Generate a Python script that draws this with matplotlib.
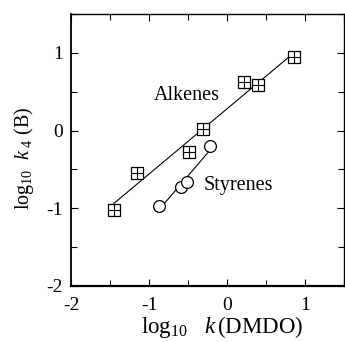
import numpy as np
import matplotlib
matplotlib.use("Agg")
import matplotlib.pyplot as plt

plt.rcParams['font.family'] = ['Liberation Serif', 'DejaVu Serif']
plt.rcParams['mathtext.fontset'] = 'custom'
plt.rcParams['mathtext.rm'] = 'Liberation Serif'
plt.rcParams['mathtext.it'] = 'Liberation Serif:italic'
plt.rcParams['axes.unicode_minus'] = False

alkenes_x = [-1.45, -1.16, -0.49, -0.31, 0.22, 0.40, 0.86]
alkenes_y = [-1.02, -0.55, -0.27, 0.02, 0.62, 0.59, 0.95]
styrenes_x = [-0.875, -0.59, -0.51, -0.22]
styrenes_y = [-0.97, -0.73, -0.66, -0.20]
xticks = [-2, -1, 0, 1]
yticks = [-2, -1, 0, 1]

fig = plt.figure(figsize=(3.45, 3.42), dpi=100)
ax = fig.add_axes([0.206, 0.164, 0.791, 0.795])

# fit lines
for xs, ys in [(alkenes_x, alkenes_y), (styrenes_x, styrenes_y)]:
    p = np.polyfit(xs, ys, 1)
    xx = np.array([min(xs), max(xs)])
    ax.plot(xx, np.polyval(p, xx), color='black', lw=0.8, zorder=2)

ax.plot(alkenes_x, alkenes_y, linestyle='none', marker='s', ms=8, mfc='white',
        mec='black', mew=0.9, zorder=3)
ax.plot(alkenes_x, alkenes_y, linestyle='none', marker='+', ms=8, mec='black',
        mew=0.8, zorder=4)
ax.plot(styrenes_x, styrenes_y, linestyle='none', marker='o', ms=8.5, mfc='white',
        mec='black', mew=0.9, zorder=3)

ax.text(-0.51, 0.45, 'Alkenes', ha='center', va='center', fontsize=14.5)
ax.text(0.14, -0.71, 'Styrenes', ha='center', va='center', fontsize=14.5)

ax.set_xlim(-2, 1.5)
ax.set_ylim(-2, 1.5)
ax.set_xticks(xticks)
ax.set_yticks(yticks)
ax.set_xticks(np.arange(-1.5, 1.6, 1.0), minor=True)
ax.set_yticks(np.arange(-1.5, 1.6, 1.0), minor=True)
ax.tick_params(which='both', direction='in', top=True, right=True, labelsize=14,
               width=0.8)
ax.tick_params(which='major', length=5)
ax.tick_params(which='minor', length=4)
ax.tick_params(axis='x', pad=8)
ax.tick_params(axis='y', pad=6)
for s in ax.spines.values():
    s.set_linewidth(1.0)
ax.spines['bottom'].set_linewidth(1.6)
ax.spines['left'].set_linewidth(1.3)

ax.set_xlabel(r'log$_{10}$   $k\,$(DMDO)', fontsize=16.5)
ax.set_ylabel(r'log$_{10}$  $k_{\ 4}$ (B)', fontsize=14.5)
ax.xaxis.set_label_coords(0.553, -0.173)
ax.xaxis.label.set_va('baseline')
ax.yaxis.set_label_coords(-0.13, 0.47)

fig.savefig('out.png', dpi=100)
